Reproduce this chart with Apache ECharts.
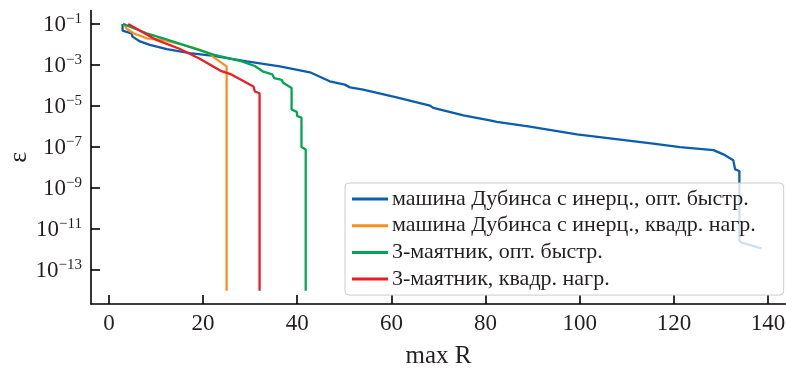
<!DOCTYPE html>
<html>
<head>
<meta charset="utf-8">
<script src="https://cdn.jsdelivr.net/npm/echarts@6/dist/echarts.min.js"></script>
<style>
html,body{margin:0;padding:0;background:#fff;}
#chart{width:786px;height:374px;}
</style>
</head>
<body>
<div id="chart"></div>
<script>
// ---- data ----
const seriesNames = [
  'машина Дубинса с инерц., опт. быстр.',
  'машина Дубинса с инерц., квадр. нагр.',
  '3-маятник, опт. быстр.',
  '3-маятник, квадр. нагр.'
];
const blueR = [2.9, 2.9, 4.8, 5.0, 6.6, 8.7, 12.3, 17.2, 22.2, 29.3, 36.3, 42.7, 46.2, 46.9, 50.1, 51.2, 54.0, 61.1, 68.2, 68.9, 75.3, 80.9, 82.4, 89.4, 99.4, 115.6, 121.3, 128.4, 130.5, 132.6, 133.0, 133.9, 133.9, 134.4, 138.6];
const blueE = [1.0e-1, 4.7e-2, 3.5e-2, 2.4e-2, 1.4e-2, 9.5e-3, 5.9e-3, 3.8e-3, 2.8e-3, 1.5e-3, 8.5e-4, 4.4e-4, 1.9e-4, 1.6e-4, 1.1e-4, 8.1e-5, 6.3e-5, 2.6e-5, 1.05e-5, 8.1e-6, 3.5e-6, 2.0e-6, 1.7e-6, 9.8e-7, 4.1e-7, 1.45e-7, 1.0e-7, 7.1e-8, 4.4e-8, 2.3e-8, 8.1e-9, 6.8e-9, 2.7e-12, 2.2e-12, 1.15e-12];
const orangeR = [3.2, 3.7, 5.2, 8.0, 11.5, 15.1, 19.3, 21.8, 22.2, 25.0, 25.0];
const orangeE = [1.0e-1, 6.2e-2, 3.5e-2, 2.0e-2, 1.66e-2, 1.05e-2, 5.5e-3, 3.2e-3, 2.4e-3, 8.5e-4, 1e-14];
const greenR = [3.0, 8.0, 11.5, 15.5, 22.2, 28.2, 31.0, 32.8, 34.7, 35.1, 36.7, 37.0, 38.8, 38.8, 39.9, 40.0, 40.9, 40.9, 41.8, 41.8];
const greenE = [1.0e-1, 3.5e-2, 2.0e-2, 1.0e-2, 3.2e-3, 1.5e-3, 8.9e-4, 4.7e-4, 3.5e-4, 2.3e-4, 1.9e-4, 1.35e-4, 7.6e-5, 6.8e-6, 5.2e-6, 3.2e-6, 2.75e-6, 1.0e-7, 7.6e-8, 1e-14];
const redR = [4.1, 10.1, 15.1, 19.3, 23.9, 25.7, 30.7, 31.0, 32.0, 32.0];
const redE = [1.0e-1, 1.66e-2, 6.0e-3, 2.0e-3, 5.0e-4, 3.7e-4, 8.9e-5, 5.1e-5, 4.2e-5, 1e-14];
const xTicks = [0, 20, 40, 60, 80, 100, 120, 140];
const yTickExponents = [-1, -3, -5, -7, -9, -11, -13];
const colors = ['#0A5EAD', '#F7901E', '#00A651', '#ED1C24'];

// ---- build ----
const zip = (a, b) => a.map((v, i) => [v, b[i]]);
const yTickValues = yTickExponents.map(e => Math.pow(10, e));
const textColor = '#231f20';
const serif = 'Liberation Serif';

const chart = echarts.init(document.getElementById('chart'), null, {renderer: 'canvas'});
const mk = (name, r, e, c) => ({
  name: name, type: 'line', data: zip(r, e), showSymbol: false, symbol: 'none',
  lineStyle: {color: c, width: 2.3}, itemStyle: {color: c}, animation: false, clip: true
});
chart.setOption({
  animation: false,
  backgroundColor: '#fff',
  grid: {left: 91, right: 0, top: 10.6, bottom: 70, containLabel: false, outerBoundsMode: 'none'},
  xAxis: {
    type: 'value', min: -3.8, max: 143.8,
    name: 'max R', nameLocation: 'middle', nameGap: 40, nameMoveOverlap: false,
    nameTextStyle: {fontFamily: serif, fontSize: 25, color: textColor},
    axisLine: {show: true, onZero: false, lineStyle: {color: '#000', width: 1.6}},
    axisTick: {show: true, inside: true, length: 9, lineStyle: {color: '#000', width: 1.6}, customValues: xTicks},
    axisLabel: {customValues: xTicks, margin: 8, fontFamily: serif, fontSize: 23, color: textColor},
    splitLine: {show: false}
  },
  yAxis: {
    type: 'log', logBase: 10, min: Math.pow(10, -14.65), max: Math.pow(10, -0.35),
    name: 'ε', nameLocation: 'middle', nameGap: 59, nameRotate: 90, nameMoveOverlap: false,
    nameTextStyle: {fontFamily: serif, fontSize: 26, color: textColor},
    axisLine: {show: true, onZero: false, lineStyle: {color: '#000', width: 1.6}},
    axisTick: {show: true, inside: true, length: 9, lineStyle: {color: '#000', width: 1.6}, customValues: yTickValues},
    axisLabel: {
      customValues: yTickValues, margin: 9, color: textColor,
      formatter: v => '{b|10}{s|−' + (-Math.round(Math.log10(v))) + '}',
      rich: {
        b: {fontFamily: serif, fontSize: 23, color: textColor, verticalAlign: 'bottom', lineHeight: 25},
        s: {fontFamily: serif, fontSize: 15, color: textColor, verticalAlign: 'top', lineHeight: 15}
      }
    },
    splitLine: {show: false}
  },
  legend: {
    show: true, orient: 'vertical', left: 345, top: 183,
    icon: 'rect', itemWidth: 36, itemHeight: 3, itemGap: 4.7,
    padding: [5, 28, 5, 7],
    backgroundColor: 'rgba(255,255,255,0.8)', borderColor: '#cccccc', borderWidth: 1, borderRadius: 4,
    textStyle: {fontFamily: serif, fontSize: 22, color: textColor, lineHeight: 22, padding: [0, 0, 0, -1]},
    data: seriesNames
  },
  series: [
    mk(seriesNames[0], blueR, blueE, colors[0]),
    mk(seriesNames[1], orangeR, orangeE, colors[1]),
    mk(seriesNames[2], greenR, greenE, colors[2]),
    mk(seriesNames[3], redR, redE, colors[3])
  ]
});
</script>
</body>
</html>
